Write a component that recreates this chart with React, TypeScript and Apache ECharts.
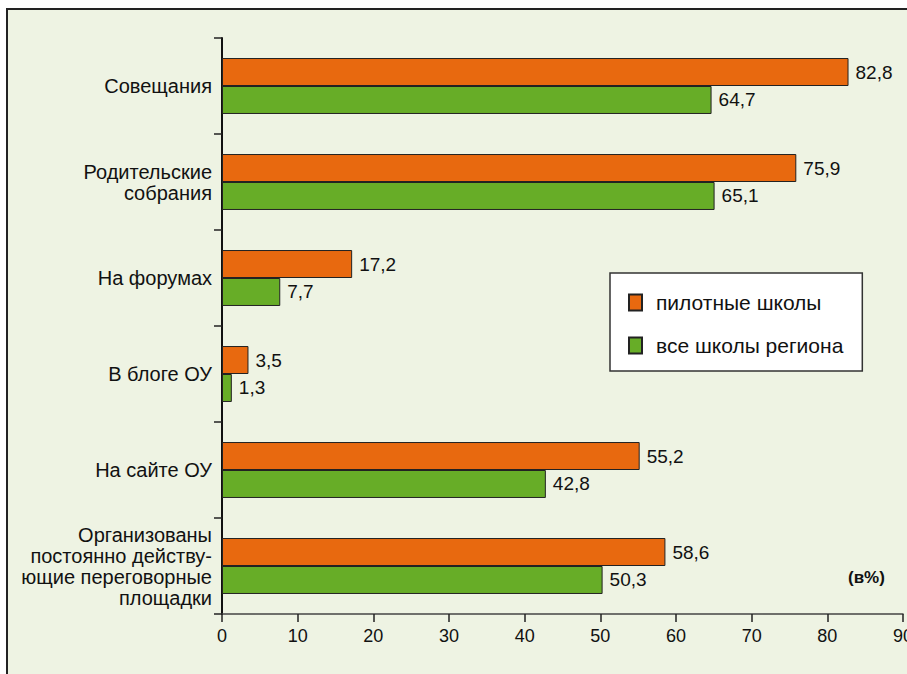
import React, { useEffect, useRef } from "react";
import * as echarts from "echarts";

const categories = [
  "Совещания",
  "Родительские\nсобрания",
  "На форумах",
  "В блоге ОУ",
  "На сайте ОУ",
  "Организованы\nпостоянно действу-\nющие переговорные\nплощадки",
];
const seriesNames = ["пилотные школы", "все школы региона"];
const pilotSchools = [82.8, 75.9, 17.2, 3.5, 55.2, 58.6];
const allSchools = [64.7, 65.1, 7.7, 1.3, 42.8, 50.3];
const axisMin = 0;
const axisMax = 90;
const axisStep = 10;
const unitLabel = "(в%)";

const FONT = "'Liberation Sans', Arial, sans-serif";
const ORANGE = "#E8690F";
const GREEN = "#67AD27";

const fmt = (v: number) => String(v).replace(".", ",");

export default function App() {
  const ref = useRef<HTMLDivElement>(null);
  useEffect(() => {
    if (!ref.current) return;
    const chart = echarts.init(ref.current, undefined, { renderer: "svg" });
    const labelCfg = {
      show: true,
      position: "right" as const,
      distance: 7,
      fontSize: 19,
      color: "#111",
      fontFamily: FONT,
      formatter: (p: any) => fmt(p.value),
    };
    chart.setOption({
      animation: false,
      textStyle: { fontFamily: FONT },
      grid: {
        left: 222,
        right: 4,
        top: 38,
        bottom: 60,
        containLabel: false,
        outerBoundsMode: "none",
      },
      legend: {
        orient: "vertical",
        left: 610,
        top: 273,
        backgroundColor: "#ffffff",
        borderColor: "#333",
        borderWidth: 1.5,
        padding: [19, 19, 15, 18],
        itemWidth: 13,
        itemHeight: 16,
        itemGap: 22,
        icon: "rect",
        textStyle: { fontSize: 21, color: "#111", fontFamily: FONT, padding: [0, 0, 0, 9] },
        data: seriesNames,
      },
      xAxis: {
        type: "value",
        min: axisMin,
        max: axisMax,
        interval: axisStep,
        splitLine: { show: false },
        axisLine: { show: true, lineStyle: { color: "#444", width: 1.5 } },
        axisTick: { show: true, length: 8, lineStyle: { color: "#222", width: 1.5 } },
        axisLabel: { fontSize: 18, color: "#111", margin: 13, fontFamily: FONT },
      },
      yAxis: {
        type: "category",
        inverse: true,
        data: categories,
        axisLine: { show: true, lineStyle: { color: "#111", width: 2 } },
        axisTick: { show: true, length: 8, lineStyle: { color: "#222", width: 1.5 } },
        axisLabel: {
          fontSize: 20,
          color: "#111",
          margin: 10,
          lineHeight: 21,
          align: "right",
          fontFamily: FONT,
        },
      },
      series: [
        {
          name: seriesNames[0],
          type: "bar",
          data: pilotSchools,
          barGap: "0%",
          barCategoryGap: "41.7%",
          itemStyle: { color: ORANGE, borderColor: "#222", borderWidth: 1 },
          label: labelCfg,
        },
        {
          name: seriesNames[1],
          type: "bar",
          data: allSchools,
          barGap: "0%",
          barCategoryGap: "41.7%",
          itemStyle: { color: GREEN, borderColor: "#222", borderWidth: 1 },
          label: labelCfg,
        },
      ],
      graphic: [
        {
          type: "text",
          left: 848,
          top: 569,
          style: {
            text: unitLabel,
            fontSize: 17,
            fontWeight: "bold",
            fill: "#111",
            font: `bold 17px ${FONT}`,
          },
        },
      ],
    });
    return () => chart.dispose();
  }, []);

  return (
    <div
      style={{
        position: "fixed",
        left: 0,
        top: 0,
        width: 907,
        height: 674,
        background: "#ffffff",
        overflow: "hidden",
      }}
    >
      <div
        style={{
          position: "absolute",
          left: 6,
          top: 8,
          width: 1000,
          height: 1000,
          border: "2px solid #222",
          background: "#EEF3E3",
        }}
      />
      <div ref={ref} style={{ position: "absolute", left: 0, top: 0, width: 907, height: 674 }} />
    </div>
  );
}
